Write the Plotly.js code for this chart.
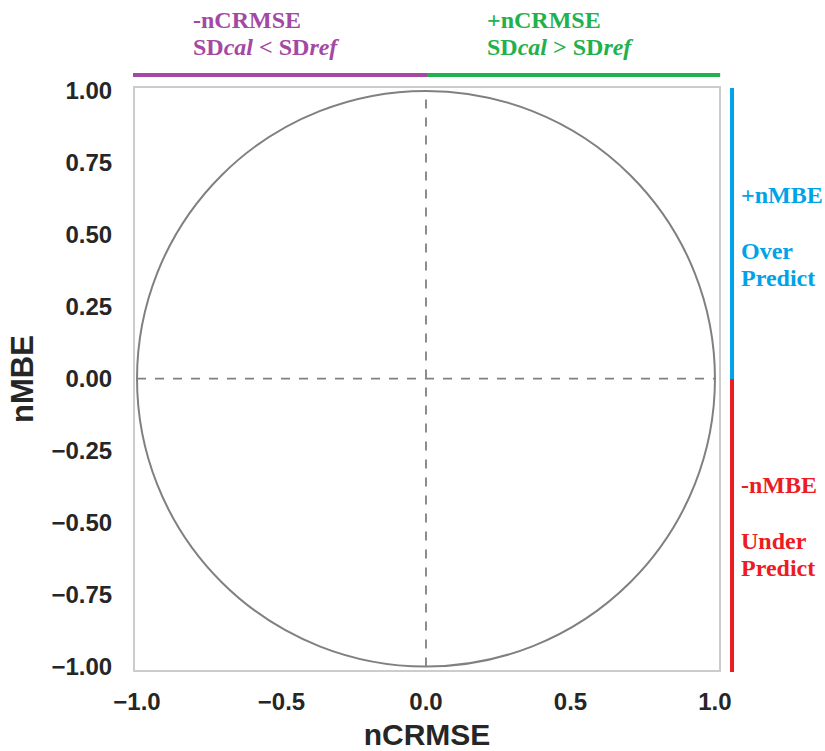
<!DOCTYPE html>
<html>
<head>
<meta charset="utf-8">
<script src="https://cdn.plot.ly/plotly-3.0.1.min.js"></script>
<style>
  html, body { margin: 0; padding: 0; background: #ffffff; }
  #chart { width: 825px; height: 751px; }
</style>
</head>
<body>
<div id="chart"></div>
<script>
// Target diagram: unit circle with reference cross-hairs
const circleRadius = 1.0;
const xTickValues = [-1.0, -0.5, 0.0, 0.5, 1.0];
const xTickLabels = ['\u22121.0', '\u22120.5', '0.0', '0.5', '1.0'];
const yTickValues = [-1.0, -0.75, -0.5, -0.25, 0.0, 0.25, 0.5, 0.75, 1.0];
const yTickLabels = ['\u22121.00', '\u22120.75', '\u22120.50', '\u22120.25', '0.00', '0.25', '0.50', '0.75', '1.00'];

// Region labels around the plot, one entry per text line
const topLeftLines = ['-nCRMSE', 'SD<i>cal</i> &lt; SD<i>ref</i>'];
const topRightLines = ['+nCRMSE', 'SD<i>cal</i> &gt; SD<i>ref</i>'];
const upperSideLines = ['+nMBE', 'Over', 'Predict'];
const lowerSideLines = ['-nMBE', 'Under', 'Predict'];

const PURPLE = '#a349a4', GREEN = '#22b14c', BLUE = '#00a2e8', RED = '#ed1c24';
const GRAY = '#808080';
const serif = 'Liberation Serif, Times New Roman, serif';
const sans = 'Liberation Sans, Arial, sans-serif';

const data = [{
  x: [-circleRadius, circleRadius], y: [-circleRadius, circleRadius],
  mode: 'markers', marker: {opacity: 0}, hoverinfo: 'skip', showlegend: false
}];

const shapes = [
  // circle
  {type: 'circle', xref: 'x', yref: 'y', x0: -circleRadius, x1: circleRadius,
   y0: -circleRadius, y1: circleRadius, line: {color: GRAY, width: 2}},
  // cross-hairs
  {type: 'line', xref: 'x', yref: 'y', x0: 0, x1: 0, y0: -circleRadius, y1: circleRadius,
   line: {color: GRAY, width: 1.8, dash: 'dash'}},
  {type: 'line', xref: 'x', yref: 'y', x0: -circleRadius, x1: circleRadius, y0: 0, y1: 0,
   line: {color: GRAY, width: 1.8, dash: 'dash'}},
  // top bars
  {type: 'line', xref: 'paper', yref: 'paper', x0: -0.0034, x1: 0.5, y0: 1.0223, y1: 1.0223,
   line: {color: PURPLE, width: 4}},
  {type: 'line', xref: 'paper', yref: 'paper', x0: 0.5, x1: 1.002, y0: 1.0223, y1: 1.0223,
   line: {color: GREEN, width: 4}},
  // side bars
  {type: 'line', xref: 'paper', yref: 'paper', x0: 1.0223, x1: 1.0223, y0: 0.5, y1: 1.0,
   line: {color: BLUE, width: 4}},
  {type: 'line', xref: 'paper', yref: 'paper', x0: 1.0223, x1: 1.0223, y0: -0.0034, y1: 0.5,
   line: {color: RED, width: 4}}
];

function label(text, x, y, color) {
  return {xref: 'paper', yref: 'paper', x: x, y: y, xanchor: 'left', yanchor: 'middle',
          align: 'left', showarrow: false, text: '<b>' + text + '</b>',
          font: {family: serif, size: 24, color: color, weight: 'bold'}};
}

const topRows = [1.1168, 1.0704];
const upperRows = [0.8162, 0.7199, 0.6735];
const lowerRows = [0.3179, 0.2216, 0.1753];

const annotations = []
  .concat(topLeftLines.map((t, i) => label(t, 0.0959, topRows[i], PURPLE)))
  .concat(topRightLines.map((t, i) => label(t, 0.599, topRows[i], GREEN)))
  .concat(upperSideLines.map((t, i) => label(t, 1.034, upperRows[i], BLUE)))
  .concat(lowerSideLines.map((t, i) => label(t, 1.034, lowerRows[i], RED)));

const axisCommon = {
  showgrid: false, zeroline: false, ticks: '',
  showline: true, mirror: true, linecolor: '#cccccc', linewidth: 2,
  tickfont: {family: sans, size: 24, color: '#262626', weight: 'bold'},
  fixedrange: true
};

const layout = {
  width: 825, height: 751,
  margin: {l: 135, r: 106, t: 88, b: 81},
  paper_bgcolor: '#ffffff', plot_bgcolor: '#ffffff',
  showlegend: false,
  xaxis: Object.assign({}, axisCommon, {
    range: [-1.007, 1.014], tickvals: xTickValues, ticktext: xTickLabels,
    ticklabelstandoff: 9,
    title: {text: '<b>nCRMSE</b>', font: {family: sans, size: 30, color: '#262626'}, standoff: 10}
  }),
  yaxis: Object.assign({}, axisCommon, {
    range: [-1.012, 1.01], tickvals: yTickValues, ticktext: yTickLabels,
    ticklabelstandoff: 16,
    title: {text: '<b>nMBE</b>', font: {family: sans, size: 31, color: '#262626'}, standoff: 9}
  }),
  shapes: shapes,
  annotations: annotations
};

Plotly.newPlot('chart', data, layout, {displayModeBar: false, staticPlot: true});
</script>
</body>
</html>
